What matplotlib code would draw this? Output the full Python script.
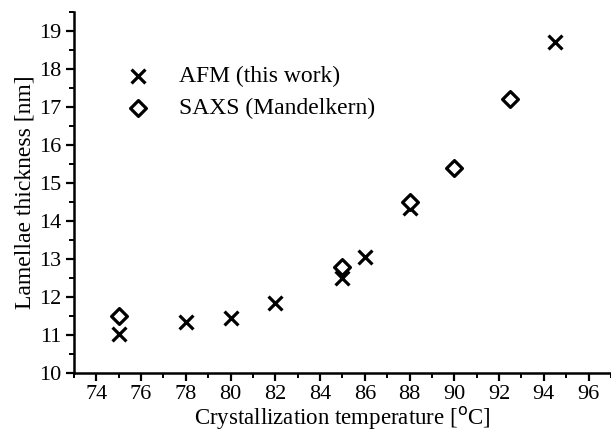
import numpy as np
import matplotlib.pyplot as plt
from matplotlib.ticker import MultipleLocator

plt.rcParams['font.family'] = ['Liberation Serif', 'DejaVu Serif']

# AFM measurements (this work)
afm_temp = [75, 78, 80, 82, 85, 86, 88, 94.5]
afm_thick = [11.02, 11.35, 11.45, 11.85, 12.5, 13.05, 14.35, 18.7]

# SAXS data (Mandelkern)
saxs_temp = [75, 85, 88, 90, 92.5]
saxs_thick = [11.5, 12.8, 14.5, 15.4, 17.2]

fig = plt.figure(figsize=(6.11, 4.33), dpi=100)
ax = fig.add_axes([0.121, 0.139, 0.879, 0.833])

ax.scatter(afm_temp, afm_thick, marker='x', s=100, color='black', linewidths=2.3,
           label='AFM (this work)')
ax.scatter(saxs_temp, saxs_thick, marker='D', s=65, facecolors='white',
           edgecolors='black', linewidths=2.3, label='SAXS (Mandelkern)')

ax.set_xlim(73, 97)
ax.set_ylim(10, 19.5)
ax.xaxis.set_minor_locator(MultipleLocator(1))
ax.yaxis.set_major_locator(MultipleLocator(1))
ax.yaxis.set_minor_locator(MultipleLocator(0.5))
ax.set_xticks(np.arange(74, 97, 2))

for s in ['top', 'right']:
    ax.spines[s].set_visible(False)
for s in ['left', 'bottom']:
    ax.spines[s].set_linewidth(1.8)
ax.tick_params(which='major', direction='out', length=6, width=1.6, labelsize=16, pad=3)
ax.tick_params(which='minor', direction='out', length=3.5, width=1.4)

ax.set_xlabel('Crystallization temperature [$^{\\mathrm{o}}$C]', fontsize=16.5, labelpad=0)
ax.set_ylabel('Lamellae thickness [nm]', fontsize=17, labelpad=3)

ax.legend(loc='upper left', bbox_to_anchor=(0.047, 0.91), frameon=False,
          fontsize=17, handlelength=1.5, handletextpad=1.0, labelspacing=0.45,
          scatterpoints=1)

fig.savefig('out.png', dpi=100)
